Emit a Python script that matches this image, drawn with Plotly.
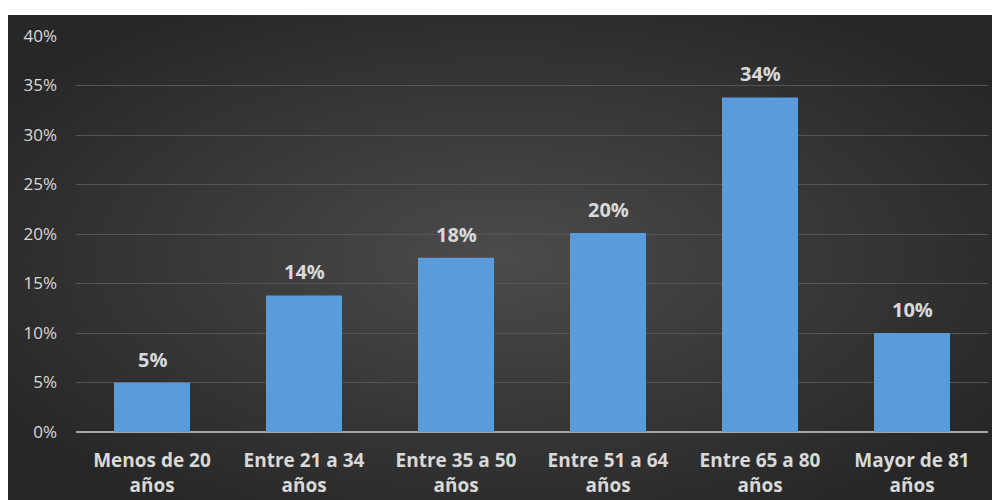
import base64
import plotly.graph_objects as go

# Age bracket shares
categories = [
    "Menos de 20<br>años",
    "Entre 21 a 34<br>años",
    "Entre 35 a 50<br>años",
    "Entre 51 a 64<br>años",
    "Entre 65 a 80<br>años",
    "Mayor de 81<br>años",
]
shares = [0.05, 0.138, 0.176, 0.201, 0.338, 0.10]
y_ticks = [0, 0.05, 0.10, 0.15, 0.20, 0.25, 0.30, 0.35, 0.40]
y_tick_text = ["0%", "5%", "10%", "15%", "20%", "25%", "30%", "35%", "40%"]

# Radial dark-gray backdrop as an inline SVG
svg = (
    '<svg xmlns="http://www.w3.org/2000/svg" width="984" height="485" '
    'preserveAspectRatio="none">'
    '<defs><radialGradient id="g" cx="50%" cy="50%" r="60%">'
    '<stop offset="0%" stop-color="#4b4b4b"/>'
    '<stop offset="100%" stop-color="#272727"/>'
    '</radialGradient></defs>'
    '<rect width="984" height="485" fill="url(#g)"/></svg>'
)
bg_src = "data:image/svg+xml;base64," + base64.b64encode(svg.encode()).decode()

label_color = "#d9d9d9"

fig = go.Figure(
    go.Bar(
        x=categories,
        y=shares,
        marker=dict(color="#5a9bdc", line=dict(width=0)),
        hoverinfo="x+y",
    )
)

# Percentage labels above each bar
for cat, val in zip(categories, shares):
    fig.add_annotation(
        x=cat,
        y=val,
        text=f"{val:.0%}",
        showarrow=False,
        yanchor="bottom",
        yshift=8,
        font=dict(family="Open Sans", size=20, color=label_color, weight="bold"),
    )

fig.update_layout(
    width=992,
    height=500,
    margin=dict(l=76, r=4, t=36, b=68),
    paper_bgcolor="white",
    plot_bgcolor="rgba(0,0,0,0)",
    bargap=0.5,
    showlegend=False,
    images=[
        dict(
            source=bg_src,
            xref="paper",
            yref="paper",
            x=-0.0746,
            y=1.053,
            sizex=1.0790,
            sizey=1.2247,
            sizing="stretch",
            xanchor="left",
            yanchor="top",
            layer="below",
        )
    ],
    xaxis=dict(
        tickfont=dict(family="Open Sans", size=19, color=label_color, weight="bold"),
        showgrid=False,
        showline=False,
        ticks="",
        ticklabelstandoff=15,
        automargin=False,
        fixedrange=True,
    ),
    yaxis=dict(
        range=[0, 0.40],
        tickvals=y_ticks,
        ticktext=y_tick_text,
        tickfont=dict(family="Open Sans", size=17, color=label_color),
        showgrid=True,
        gridcolor="#555555",
        gridwidth=1,
        zeroline=True,
        zerolinecolor="#a6a6a6",
        zerolinewidth=2,
        ticks="",
        ticklabelstandoff=18,
        automargin=False,
    ),
)

fig.write_html("out.html")
